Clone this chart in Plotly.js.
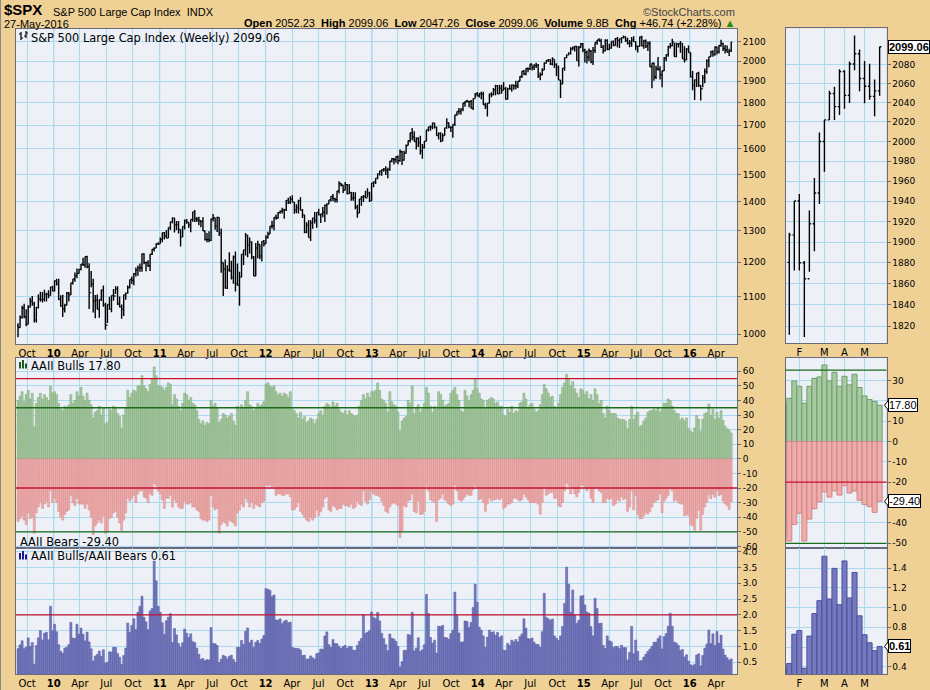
<!DOCTYPE html>
<html><head><meta charset="utf-8">
<script src="https://cdn.plot.ly/plotly-3.0.1.min.js"></script>
<style>html,body{margin:0;padding:0;background:#EFD196;}#chart{width:930px;height:690px;}</style>
</head><body><div id="chart"></div>
<script>
// ---------- DATA ----------
const firstMonday = Date.UTC(2009, 7, 31);   // week of 31-Aug-2009 (first weekly bar)
const firstOpen = 1020.62;

const high = [
1028.0,1048.2,1074.8,1080.2,1065.1,1076.0,1096.6,1101.4,1085.3,1071.5,1105.4,1113.7,1112.4,1119.1,1110.7,1117.7,1127.6,1130.4,
1145.4,1150.4,1150.5,1103.7,1104.7,1080.0,1112.4,1112.4,1139.0,1150.2,1169.2,1181.0,1180.1,1194.7,1214.0,1217.3,1219.8,1197.0,1173.6,1150.5,1104.5,1105.7,1091.6,1119.9,1131.2,1082.6,1078.0,1099.1,1103.1,1120.9,1129.2,1129.2,1100.1,1077.6,1105.1,1110.9,1131.5,1148.9,1157.2,1167.7,1184.4,1190.4,1196.1,1227.1,1227.9,1200.9,1206.3,1225.6,1241.0,1246.7,1259.4,1262.6,
1278.2,1293.2,1296.1,1302.7,1311.0,1330.8,1344.1,1343.0,1332.3,1332.3,1304.3,1314.2,1337.9,1339.5,1328.2,1337.5,1364.6,1370.6,1346.0,1346.8,1334.5,1345.2,1300.2,1292.5,1298.6,1341.0,1356.5,1343.8,1347.0,1345.2,1307.4,1199.4,1208.5,1190.7,1230.7,1204.4,1220.4,1233.1,1195.9,1171.4,1224.6,1239.0,1292.7,1285.1,1277.6,1266.0,1219.1,1260.1,1267.1,1255.2,1265.4,1269.4,
1285.0,1296.8,1315.5,1333.5,1345.3,1354.3,1363.4,1368.9,1378.0,1374.8,1405.9,1414.0,1419.2,1422.4,1398.1,1390.8,1406.6,1415.3,1373.9,1353.5,1328.5,1334.9,1335.5,1343.3,1363.5,1362.2,1374.8,1357.0,1380.4,1389.2,1394.2,1405.9,1418.7,1426.7,1413.5,1438.0,1474.5,1467.1,1460.2,1470.9,1464.0,1464.0,1434.0,1434.3,1433.4,1388.8,1409.2,1420.3,1423.7,1438.6,1448.0,1435.6,1467.9,
1472.1,1485.2,1503.3,1514.4,1518.3,1524.7,1530.9,1525.3,1552.5,1563.6,1564.0,1570.3,1573.7,1597.4,1593.0,1592.6,1618.5,1635.0,1667.5,1687.2,1674.2,1648.7,1648.7,1654.2,1620.1,1632.1,1680.2,1693.1,1698.8,1709.7,1709.2,1694.0,1669.2,1669.5,1664.7,1689.0,1729.9,1711.0,1693.1,1703.4,1745.3,1759.8,1775.2,1774.5,1798.2,1805.8,1813.6,1806.0,1811.5,1819.0,1844.0,1849.4,
1843.2,1850.8,1850.8,1798.8,1798.0,1841.7,1847.5,1867.9,1883.6,1882.3,1883.9,1883.0,1897.3,1873.0,1869.6,1884.9,1884.9,1885.0,1902.2,1901.3,1924.0,1949.5,1955.5,1963.9,1968.2,1985.6,1983.0,1983.9,1991.4,1985.0,1942.9,1964.0,1994.8,2005.0,2011.2,2008.3,2019.3,2008.3,1989.6,1977.6,1906.2,1965.3,2018.2,2034.3,2046.2,2071.5,2075.8,2079.5,2077.9,2077.9,2094.0,2093.6,
2064.4,2054.4,2064.6,2057.6,2072.4,2097.0,2110.6,2119.6,2117.5,2083.5,2114.9,2114.9,2089.8,2102.6,2107.6,2120.9,2125.9,2117.7,2123.9,2134.7,2130.0,2121.9,2109.6,2126.7,2130.0,2102.1,2078.6,2128.6,2132.8,2111.0,2112.7,2102.5,2103.5,1989.0,1993.5,1976.0,2021.0,1974.0,1951.8,2020.9,2033.5,2079.7,2094.3,2116.5,2093.8,2097.1,2094.1,2104.3,2093.0,2076.7,2067.6,2081.6,
2044.0,1950.3,1908.9,1940.2,1947.2,1881.6,1930.7,1963.0,2009.1,2022.4,2052.4,2056.6,2075.1,2074.0,2083.2,2111.1,2096.0,2083.8,2081.0,2064.2,2099.1];

const low = [
992.0,1016.4,1040.0,1041.2,1019.9,1025.2,1069.3,1074.3,1029.4,1029.4,1067.0,1086.0,1083.7,1086.4,1085.9,1095.4,1102.5,1114.8,
1115.1,1131.4,1090.2,1071.6,1044.5,1056.1,1075.5,1086.0,1104.5,1134.1,1141.7,1152.0,1165.5,1175.5,1188.6,1183.7,1181.6,1065.8,1126.0,1055.9,1040.8,1064.8,1042.2,1087.7,1071.8,1010.9,1028.1,1064.1,1056.9,1088.0,1106.8,1076.6,1069.6,1039.7,1047.1,1091.2,1107.6,1122.3,1135.8,1131.9,1157.1,1159.7,1171.7,1171.3,1194.1,1173.0,1185.5,1173.6,1222.5,1232.9,1243.9,1254.0,
1257.6,1262.2,1271.3,1275.1,1276.3,1302.6,1324.6,1294.3,1302.6,1291.0,1249.1,1279.2,1304.4,1322.9,1309.3,1294.7,1330.0,1329.2,1329.0,1318.5,1311.8,1299.2,1268.0,1262.7,1262.9,1266.9,1331.1,1303.5,1295.9,1282.9,1168.1,1101.5,1122.1,1121.1,1171.6,1148.4,1136.2,1114.2,1131.1,1074.8,1155.4,1191.5,1220.9,1215.4,1226.6,1209.4,1158.6,1158.6,1212.0,1209.5,1202.4,1248.6,
1257.6,1274.6,1288.9,1306.9,1300.5,1337.1,1340.0,1356.9,1358.2,1340.0,1366.7,1391.6,1391.6,1397.1,1357.4,1358.8,1358.4,1369.0,1343.1,1291.9,1291.6,1277.8,1266.7,1306.6,1324.4,1309.9,1351.5,1325.4,1345.1,1329.2,1354.7,1391.0,1400.4,1400.9,1397.0,1396.6,1429.1,1454.3,1430.5,1440.6,1425.5,1426.9,1403.3,1403.3,1373.0,1343.4,1359.8,1385.4,1398.1,1411.9,1416.4,1398.1,1402.4,
1451.6,1463.8,1482.0,1495.3,1495.0,1510.0,1497.3,1485.0,1514.0,1547.4,1538.6,1545.1,1539.5,1548.6,1536.0,1552.6,1581.3,1614.4,1626.3,1635.5,1630.7,1598.2,1607.9,1577.7,1560.3,1601.9,1631.9,1672.8,1676.0,1682.6,1684.9,1654.6,1639.1,1627.5,1633.0,1656.0,1684.0,1686.0,1670.2,1646.5,1696.6,1740.5,1746.5,1746.2,1760.6,1780.9,1800.6,1779.1,1772.3,1767.0,1818.3,1827.7,
1823.7,1815.3,1790.2,1770.5,1737.9,1797.0,1824.6,1834.4,1834.4,1839.6,1839.5,1841.5,1858.0,1814.4,1815.6,1859.7,1850.6,1859.8,1862.4,1868.5,1900.5,1915.6,1929.6,1930.0,1944.7,1955.0,1952.9,1955.6,1965.0,1916.6,1904.8,1928.3,1955.2,1988.4,1995.8,1980.0,1978.5,1965.0,1926.0,1906.0,1820.7,1886.7,1951.4,2014.1,2030.2,2034.1,2056.2,2049.6,2002.3,1972.6,2069.5,2046.0,
1992.4,1988.1,1999.0,1989.2,1981.0,2041.9,2085.4,2103.5,2067.3,2039.7,2050.0,2056.6,2056.5,2064.0,2077.0,2081.2,2072.0,2067.9,2093.0,2117.7,2099.2,2085.7,2072.1,2074.0,2099.3,2056.3,2044.0,2076.6,2076.0,2063.5,2067.9,2052.5,1970.0,1867.0,1903.1,1911.0,1953.0,1909.0,1872.0,1950.0,1999.0,2021.9,2064.8,2076.7,2022.0,2019.4,2070.3,2042.4,2012.3,1993.3,2005.5,2043.6,
1918.5,1857.8,1812.3,1872.7,1872.7,1810.1,1871.4,1891.0,1937.1,1969.3,2022.1,2022.1,2027.3,2033.8,2039.7,2074.0,2052.0,2039.5,2043.0,2025.9,2047.3];

const close = [
1016.40,1042.73,1068.30,1044.38,1025.21,1071.49,1087.68,1079.60,1036.19,1069.30,1093.48,1091.38,1091.49,1105.98,1106.41,1102.47,1126.48,1115.10,
1144.98,1136.03,1091.76,1073.87,1066.19,1075.51,1109.17,1104.49,1138.70,1149.99,1159.90,1166.59,1178.10,1194.37,1192.13,1217.28,1186.69,1110.88,1135.68,1087.69,1089.41,1064.88,1091.60,1117.51,1076.76,1022.58,1077.96,1064.88,1102.66,1101.60,1121.64,1079.25,1071.69,1064.59,1104.51,1109.55,1125.59,1148.67,1146.24,1165.15,1176.19,1183.08,1183.26,1225.85,1199.21,1199.73,1189.40,1224.71,1240.40,1243.91,1256.77,1257.64,
1271.50,1293.24,1283.35,1276.34,1310.87,1329.15,1343.01,1319.88,1321.15,1304.28,1279.21,1313.80,1332.41,1328.17,1319.68,1337.38,1363.61,1340.20,1337.77,1333.27,1331.10,1300.16,1270.98,1271.50,1268.45,1339.67,1343.80,1316.14,1345.02,1292.28,1199.38,1178.81,1123.53,1176.80,1173.97,1154.23,1216.01,1136.43,1131.42,1155.46,1224.58,1238.25,1285.09,1253.23,1263.85,1215.65,1158.67,1244.28,1255.19,1219.66,1265.33,1257.60,
1277.81,1289.09,1315.38,1316.33,1344.90,1342.64,1361.23,1365.74,1369.63,1370.87,1404.17,1397.11,1408.47,1398.08,1370.26,1378.53,1403.36,1369.10,1353.39,1295.22,1317.82,1278.04,1325.66,1342.84,1335.02,1362.16,1354.68,1356.78,1362.66,1385.97,1390.99,1405.87,1418.16,1411.13,1406.58,1437.92,1465.77,1460.15,1440.67,1460.93,1428.59,1433.19,1411.94,1414.20,1379.85,1359.88,1409.15,1416.18,1418.07,1413.58,1430.15,1402.43,1466.47,
1472.05,1485.98,1502.96,1513.17,1517.93,1519.79,1515.60,1518.20,1551.18,1560.70,1556.89,1569.19,1553.28,1588.85,1555.25,1582.24,1614.42,1633.70,1667.47,1649.60,1630.74,1643.38,1626.73,1592.43,1606.28,1631.89,1680.19,1692.09,1691.65,1709.67,1691.42,1655.83,1663.50,1632.97,1655.17,1687.99,1709.91,1691.75,1690.50,1703.20,1744.50,1759.77,1761.64,1770.61,1798.18,1804.76,1805.81,1805.09,1775.32,1818.32,1841.40,1831.37,
1842.37,1838.70,1790.29,1782.59,1797.02,1838.63,1836.25,1859.45,1878.04,1841.13,1866.52,1857.62,1865.09,1815.69,1864.85,1863.40,1881.14,1878.48,1877.86,1900.53,1923.57,1949.44,1936.16,1962.87,1960.96,1985.44,1967.57,1978.22,1978.34,1925.15,1931.59,1955.06,1988.40,2003.37,2007.71,1985.54,2010.40,1982.85,1967.90,1906.13,1886.76,1964.58,2018.05,2031.92,2039.82,2063.50,2067.56,2075.37,2002.33,2070.65,2088.77,2058.20,
2044.81,2019.42,2051.82,1994.99,2055.47,2096.99,2110.30,2104.50,2071.26,2053.40,2108.10,2061.02,2066.96,2102.06,2081.18,2117.69,2108.29,2116.10,2122.73,2126.06,2107.39,2092.83,2094.11,2109.99,2101.49,2076.78,2076.62,2126.64,2079.65,2103.84,2077.57,2091.54,1970.89,1988.87,1921.22,1961.05,1958.03,1931.34,1951.36,2014.89,2033.11,2075.15,2079.36,2099.20,2023.04,2089.17,2090.11,2091.69,2012.37,2005.55,2060.99,2043.94,
1922.03,1880.33,1906.90,1940.24,1880.05,1864.78,1917.78,1948.05,1999.99,2022.19,2049.58,2035.94,2072.78,2047.60,2080.73,2091.58,2065.30,2057.14,2046.61,2052.32,2099.06];

const bulls = [
40,43,46,39,44,47,41,45,22,38,42,45,41,44,42,40,50,45,
46,44,38,34, 33,36,35,37, 44,38,40,46,43, 49,43,40,45, 40,37,28,32,33, 36,30,35,24, 25,34,33,36, 35,31,29,21,30, 35,47,42,45, 47,46,50,50, 57,50,48,46,51, 55,63,57,50,
50,49,47,49,52, 51,37,44,41, 36,33,38,45, 44,40,42,38, 37,33,27,24,26, 23,25,24,40, 36,38,35,25, 27,31,30,28,29, 31,26,23,36, 34,37,35,40,46, 37,36,33,35, 38,36,37,39,
51,52,50,49,50, 46,44,45,43, 45,44,42,46, 34,33,31,28,32, 27,29,25,26, 28,27,24,27, 31,33,30,36,38, 37,35,39,36, 38,34,32,31, 33,30,33,31,30, 29,30,36,40, 44,41,45,42,46,
46,47,52,47, 41,40,38,32, 46,39,37,36, 32,19,26,28,29, 40,38,50,31, 35,37,32,34, 38,49,45,36,32, 36,34,46,44, 40,36,37,38,45, 47,49,44,40, 33,32,47,43, 40,44,47,55,48,
45,41,40,35, 40,41,42,41, 38,39,36,36, 30,29,34,32,36, 31,33,32,38, 39,45,41,35, 37,38,34,32,33, 37,44,51,48, 45,42,43,36,34, 38,44,49,52, 58,55,50,53,48, 45,42,48,47,
44,46,41,44, 40,48,44,38, 40,31,28,36, 33,31,31,31,28, 27,27,27,26, 20.5,27,36,27,30, 32,22,23,26, 28,32,33,33, 34,33,35,32,34, 38,38,41,40, 36,33,31,31,27, 28,26,28,21,
19, 17.9,21.2,29.7,27.1,18.8,27.1,31.0,31.7,37.6,29.7,34.0,27.1,32.0,27.8,33.0,26.5,22.4,20.6,19.6,17.8];

const bears = [
-43,-41,-39,-42,-45,-37,-41,-40,-51,-37,-33,-30,-34,-31,-29,-33,-22,-30,
-27,-30,-36,-40, -42,-38,-36,-35, -25,-30,-32,-27,-31, -31,-31,-34,-31, -35,-40,-52,-46,-44, -42,-44,-39,-51, -50,-41,-40,-37, -36,-40,-44,-49,-42, -37,-27,-29,-27, -25,-30,-24,-22, -22,-26,-27,-30,-24, -25,-17,-18.5,-22,
-24,-28,-34,-27,-27, -25,-33,-28,-30, -33,-34,-34,-29, -31,-31,-30,-33, -33,-35,-36,-41,-42, -42,-43,-42,-25, -33,-35,-34,-51, -45,-43,-44,-46,-42, -43,-44,-46,-37, -35,-31,-33,-27,-29, -33,-30,-34,-31, -32,-33,-30,-29,
-18,-18.5,-18,-19,-19, -25,-24,-24,-25, -25,-24,-24,-26, -35,-35,-33,-30,-36, -38,-40,-42,-43, -40,-42,-40,-35, -39,-36,-33,-27,-26, -35,-36,-32,-33, -35,-34,-34,-31, -32,-32,-33,-31,-34, -33,-29,-31,-32, -22,-29,-31,-28,-22,
-24,-25,-25,-26, -29,-32,-36,-37, -33,-31,-30,-31, -32,-54,-50,-32,-33, -29,-28,-24,-36, -37,-29,-38,-38, -36,-18.5,-22,-28,-29, -30,-43,-28,-27, -24,-28,-29,-31,-32, -31,-18,-22,-28, -29,-28,-26,-24, -25,-25,-21,-18.5,-20,
-28,-27,-30,-36, -31,-27,-29,-28, -28,-27,-28,-27, -34,-33,-31,-31,-30, -27,-27,-28,-29, -28,-24,-26,-28, -30,-30,-30,-30,-31, -38,-30,-19,-25, -24,-23,-23,-27,-27, -32,-33,-30,-22, -16.5,-18.5,-24,-19,-24, -26,-23,-18.5,-18,
-19,-22,-20,-27, -30,-19,-20,-22, -23,-30,-30,-27, -28,-27,-32,-31,-28, -29,-26,-28,-27, -36,-33,-22,-35,-25, -38,-41,-41,-39, -37,-38,-36,-33, -30,-29,-28,-24,-37, -29,-27,-25,-19.5, -22,-29,-28,-30,-31, -31,-39,-38,-39,
-45, -45.9,-48.9,-40.7,-35.3,-48.9,-38.1,-33.0,-29.6,-24.7,-27.3,-24.3,-26.3,-21.7,-25.3,-24.3,-28.9,-30.9,-32.0,-34.8,-29.4];

const mainTickVals = ['2009-10-01','2010-01-01','2010-04-01','2010-07-01','2010-10-01','2011-01-01','2011-04-01','2011-07-01','2011-10-01','2012-01-01','2012-04-01','2012-07-01','2012-10-01','2013-01-01','2013-04-01','2013-07-01','2013-10-01','2014-01-01','2014-04-01','2014-07-01','2014-10-01','2015-01-01','2015-04-01','2015-07-01','2015-10-01','2016-01-01','2016-04-01'];
const mainTickText = ['Oct','10','Apr','Jul','Oct','11','Apr','Jul','Oct','12','Apr','Jul','Oct','13','Apr','Jul','Oct','14','Apr','Jul','Oct','15','Apr','Jul','Oct','16','Apr'];
const yearStarts = ['2010-01-01','2011-01-01','2012-01-01','2013-01-01','2014-01-01','2015-01-01','2016-01-01'];
const rightTickVals = ['2016-02-01','2016-03-07','2016-04-04','2016-05-02'];
const rightTickText = ['F','M','A','M'];
const priceTicks = [1000,1100,1200,1300,1400,1500,1600,1700,1800,1900,2000,2100];
const rightPriceTicks = [1820,1840,1860,1880,1900,1920,1940,1960,1980,2000,2020,2040,2060,2080];
const aaiiTicks = [-60,-50,-40,-30,-20,-10,0,10,20,30,40,50,60];
const rightAaiiTicks = [-50,-40,-30,-20,-10,0,10,20,30];
const ratioTicks = [0.5,1.0,1.5,2.0,2.5,3.0,3.5,4.0];
const rightRatioTicks = [0.4,0.6,0.8,1.0,1.2,1.4];
const header = {sym:'$SPX', name:'S&amp;P 500 Large Cap Index', exch:'INDX', date:'27-May-2016',
  open:'2052.23', hi:'2099.06', lo:'2047.26', cl:'2099.06', vol:'9.8B', chg:'+46.74 (+2.28%)'};

// ---------- DERIVED ----------
const dates = close.map((_, i) => new Date(firstMonday + i * 7 * 86400000).toISOString().slice(0, 10));
const opens = close.map((c, i) => i === 0 ? firstOpen : close[i - 1]);
const ratio = bulls.map((b, i) => b / -bears[i]);
const N = close.length;
const lastClose = close[N - 1], lastBull = bulls[N - 1], lastBear = bears[N - 1], lastRatio = ratio[N - 1];

// ---------- STYLE ----------
const W = 930, H = 690;
const px = x => x / W, py = y => 1 - y / H;
const gridC = '#ABDAEE', yearC = '#84C2E2', borderC = '#6A6A7C';
const redC = '#C8102E', greenC = '#1B6B1B';
const tickFont = {family: 'DejaVu Sans', size: 10, color: '#000'};
const yFont = {family: 'DejaVu Sans', size: 9, color: '#000'};
const MAIN_X = [px(16), px(737)], RIGHT_X = [px(785.5), px(886.5)];
const MAIN_R = ['2009-08-24', '2016-06-12'], RIGHT_R = ['2016-01-12 17:00', '2016-06-01 14:00'];

function xa(dom, rng, anchor, labels, right) {
  return {domain: dom, anchor: anchor, type: 'date', range: rng, showline: true, mirror: true,
    linecolor: borderC, linewidth: 1, showgrid: true, gridcolor: gridC, gridwidth: 1, zeroline: false,
    rangeslider: {visible: false},
    tickmode: 'array', tickvals: right ? rightTickVals : mainTickVals,
    ticktext: right ? rightTickText : mainTickText.map(t => /^\d+$/.test(t) ? '<b>' + t + '</b>' : t),
    showticklabels: labels, ticks: '', tickfont: tickFont, fixedrange: true};
}
function ya(dom, anchor, extra) {
  return Object.assign({domain: dom, anchor: anchor, side: 'right', showline: true, mirror: true,
    linecolor: borderC, linewidth: 1, showgrid: true, gridcolor: gridC, gridwidth: 1, zeroline: false,
    tickmode: 'array', ticks: 'outside', ticklen: 3, tickcolor: borderC, tickfont: yFont, fixedrange: true}, extra);
}
// labels hidden behind the value tags (as in the reference)
const hideNear = (vals, hidden, fmt) => vals.map(v => hidden.includes(v) ? '' : fmt(v));

const ohlcStyle = (w, tw) => ({type: 'ohlc', x: dates, open: opens, high: high, low: low, close: close,
  increasing: {line: {color: '#000', width: w}}, decreasing: {line: {color: '#000', width: w}}, tickwidth: tw, hoverinfo: 'skip'});
const barT = (y, xa_, ya_, fill, line, lw) => ({type: 'bar', x: dates, y: y, xaxis: xa_, yaxis: ya_,
  marker: {color: fill, line: {color: line, width: lw}}, hoverinfo: 'skip'});

const traces = [
  Object.assign(ohlcStyle(1.4, 0.5), {xaxis: 'x', yaxis: 'y'}),
  Object.assign(ohlcStyle(1.4, 0.35), {xaxis: 'x2', yaxis: 'y2'}),
  barT(bulls, 'x3', 'y3', '#A7C9A2', '#7CA775', 0.5),
  barT(bears, 'x3', 'y3', '#F0ABAB', '#D38C8C', 0.5),
  barT(bulls, 'x4', 'y4', '#A7C9A2', '#6E9E68', 1),
  barT(bears, 'x4', 'y4', '#F0ABAB', '#D08686', 1),
  barT(ratio, 'x5', 'y5', '#7579BD', '#50549F', 0.5),
  barT(ratio, 'x6', 'y6', '#7579BD', '#4C509C', 1)
];

const shapes = [];
['', '3', '5'].forEach(k => yearStarts.forEach(d => shapes.push({type: 'line', layer: 'below', xref: 'x' + k, yref: 'y' + k + ' domain',
  x0: d, x1: d, y0: 0, y1: 1, line: {color: yearC, width: 1}})));
[[55, redC], [35, greenC], [-20, redC], [-50, greenC]].forEach(([v, c]) => shapes.push({type: 'line', xref: 'x3 domain', yref: 'y3', x0: 0, x1: 1, y0: v, y1: v, line: {color: c, width: 1.3}}));
[[35, greenC], [-20, redC], [-50, greenC]].forEach(([v, c]) => shapes.push({type: 'line', xref: 'x4 domain', yref: 'y4', x0: 0, x1: 1, y0: v, y1: v, line: {color: c, width: 1.3}}));
shapes.push({type: 'line', xref: 'x5 domain', yref: 'y5', x0: 0, x1: 1, y0: 2, y1: 2, line: {color: redC, width: 1.3}});
shapes.push({type: 'line', xref: 'paper', yref: 'paper', x0: px(0.5), x1: px(0.5), y0: 0, y1: 1, line: {color: '#8A8A8A', width: 1}});
function rect(x0, y0, x1, y1, c) { shapes.push({type: 'rect', xref: 'paper', yref: 'paper', x0: px(x0), x1: px(x1), y0: py(y1), y1: py(y0), fillcolor: c, line: {width: 0}}); }
function ln(x0, y0, x1, y1, c) { shapes.push({type: 'line', xref: 'paper', yref: 'paper', x0: px(x0), x1: px(x1), y0: py(y0), y1: py(y1), line: {color: c, width: 1.2}}); }
ln(21, 32, 21, 40, '#000'); ln(19, 34, 21, 34, '#000'); ln(21, 38, 23, 38, '#000');
ln(26, 31, 26, 38, '#000'); ln(24, 36, 26, 36, '#000'); ln(26, 33, 28, 33, '#000');
rect(19, 362, 21, 368.5, '#1F5C1F'); rect(22, 360, 24, 368.5, '#1F5C1F'); rect(25, 363.5, 27, 368.5, '#1F5C1F');
rect(19, 553, 21, 559.5, '#1A1A8A'); rect(22, 551, 24, 559.5, '#1A1A8A'); rect(25, 554.5, 27, 559.5, '#1A1A8A');
function pointer(yref, yv) { shapes.push({type: 'path', xref: 'paper', yref: yref, xsizemode: 'pixel', ysizemode: 'pixel',
  xanchor: px(888), yanchor: yv, path: 'M0.5,-5 L-3.5,0 L0.5,5 Z', fillcolor: '#fff', line: {color: '#000', width: 1}}); }
pointer('y2', Math.log10(lastClose)); pointer('y4', lastBull); pointer('y4', lastBear); pointer('y6', lastRatio);

const nb = '\u00A0';
const ann = [];
function txt(x, y, t, font, anchor) { ann.push({xref: 'paper', yref: 'paper', x: px(x), y: py(y), text: t, showarrow: false,
  xanchor: anchor || 'left', yanchor: 'middle', font: font}); }
const hf = {family: 'Liberation Sans, Arial', size: 11, color: '#000'};
txt(2, 10, '<b>' + header.sym + '</b>', {family: 'Liberation Sans, Arial', size: 15, color: '#000'});
txt(51, 11.5, header.name + nb + nb + header.exch, hf);
txt(737, 11.5, '©StockCharts.com', {family: 'Liberation Sans, Arial', size: 11, color: '#444'}, 'right');
txt(2, 24.5, header.date, hf);
txt(737, 23.5, '<b>Open</b>' + nb + header.open + nb + nb + '<b>High</b>' + nb + header.hi + nb + nb + '<b>Low</b>' + nb + header.lo + nb + nb +
  '<b>Close</b>' + nb + header.cl + nb + nb + '<b>Volume</b>' + nb + header.vol + nb + nb + '<b>Chg</b>' + nb + header.chg + nb +
  '<span style="color:#1E8C1E">▲</span>', hf, 'right');
const pf = {family: 'DejaVu Sans', size: 11.4, color: '#000'};
txt(29, 37.5, 'S&amp;P 500 Large Cap Index (Weekly) ' + lastClose.toFixed(2), pf);
txt(29, 365.5, 'AAII Bulls ' + lastBull.toFixed(2), pf);
txt(18, 541.5, 'AAII Bears ' + lastBear.toFixed(2), pf);
txt(29, 556, 'AAII Bulls/AAII Bears ' + lastRatio.toFixed(2), pf);
function tag(yref, yv, t, bold) { ann.push({xref: 'paper', yref: yref, x: px(888), y: yv, xanchor: 'left', yanchor: 'middle',
  text: bold ? '<b>' + t + '</b>' : t, showarrow: false, bgcolor: '#fff', bordercolor: '#000', borderwidth: 1, borderpad: 0,
  font: {family: 'Liberation Sans, Arial', size: 11, color: '#000'}}); }
tag('y2', Math.log10(lastClose), lastClose.toFixed(2), true);
tag('y4', lastBull, lastBull.toFixed(2), false);
tag('y4', lastBear, lastBear.toFixed(2), false);
tag('y6', lastRatio, lastRatio.toFixed(2), true);

const layout = {
  width: W, height: H, margin: {l: 0, r: 0, t: 0, b: 0}, paper_bgcolor: '#EFD196', plot_bgcolor: '#EEF0F8',
  showlegend: false, hovermode: false, barmode: 'overlay', bargap: 0, font: {family: 'DejaVu Sans', size: 10, color: '#000'},
  xaxis: xa(MAIN_X, MAIN_R, 'y', true, false),
  yaxis: ya([py(344), py(29)], 'x', {type: 'log', range: [Math.log10(975), Math.log10(2170)], tickvals: priceTicks, ticktext: priceTicks.map(String)}),
  xaxis2: xa(RIGHT_X, RIGHT_R, 'y2', true, true),
  yaxis2: ya([py(343.3), py(28.3)], 'x2', {type: 'log', range: [Math.log10(1804.3), Math.log10(2118.9)], tickvals: rightPriceTicks, ticktext: rightPriceTicks.map(String)}),
  xaxis3: xa(MAIN_X, MAIN_R, 'y3', false, false),
  yaxis3: ya([py(548), py(358)], 'x3', {range: [-61.1, 69.1], tickvals: aaiiTicks, ticktext: aaiiTicks.map(String)}),
  xaxis4: xa(RIGHT_X, RIGHT_R, 'y4', false, true),
  yaxis4: ya([py(548), py(358)], 'x4', {range: [-52.3, 41.0], tickvals: rightAaiiTicks, ticktext: hideNear(rightAaiiTicks, [20, -30], String)}),
  xaxis5: xa(MAIN_X, MAIN_R, 'y5', true, false),
  yaxis5: ya([py(674), py(548)], 'x5', {range: [0.127, 4.12], tickvals: ratioTicks, ticktext: ratioTicks.map(v => v.toFixed(1))}),
  xaxis6: xa(RIGHT_X, RIGHT_R, 'y6', true, true),
  yaxis6: ya([py(674), py(548)], 'x6', {range: [0.326, 1.606], tickvals: rightRatioTicks, ticktext: hideNear(rightRatioTicks, [0.6], v => v.toFixed(1))}),
  shapes: shapes, annotations: ann
};
Plotly.newPlot('chart', traces, layout, {staticPlot: true, displayModeBar: false});
</script></body></html>
